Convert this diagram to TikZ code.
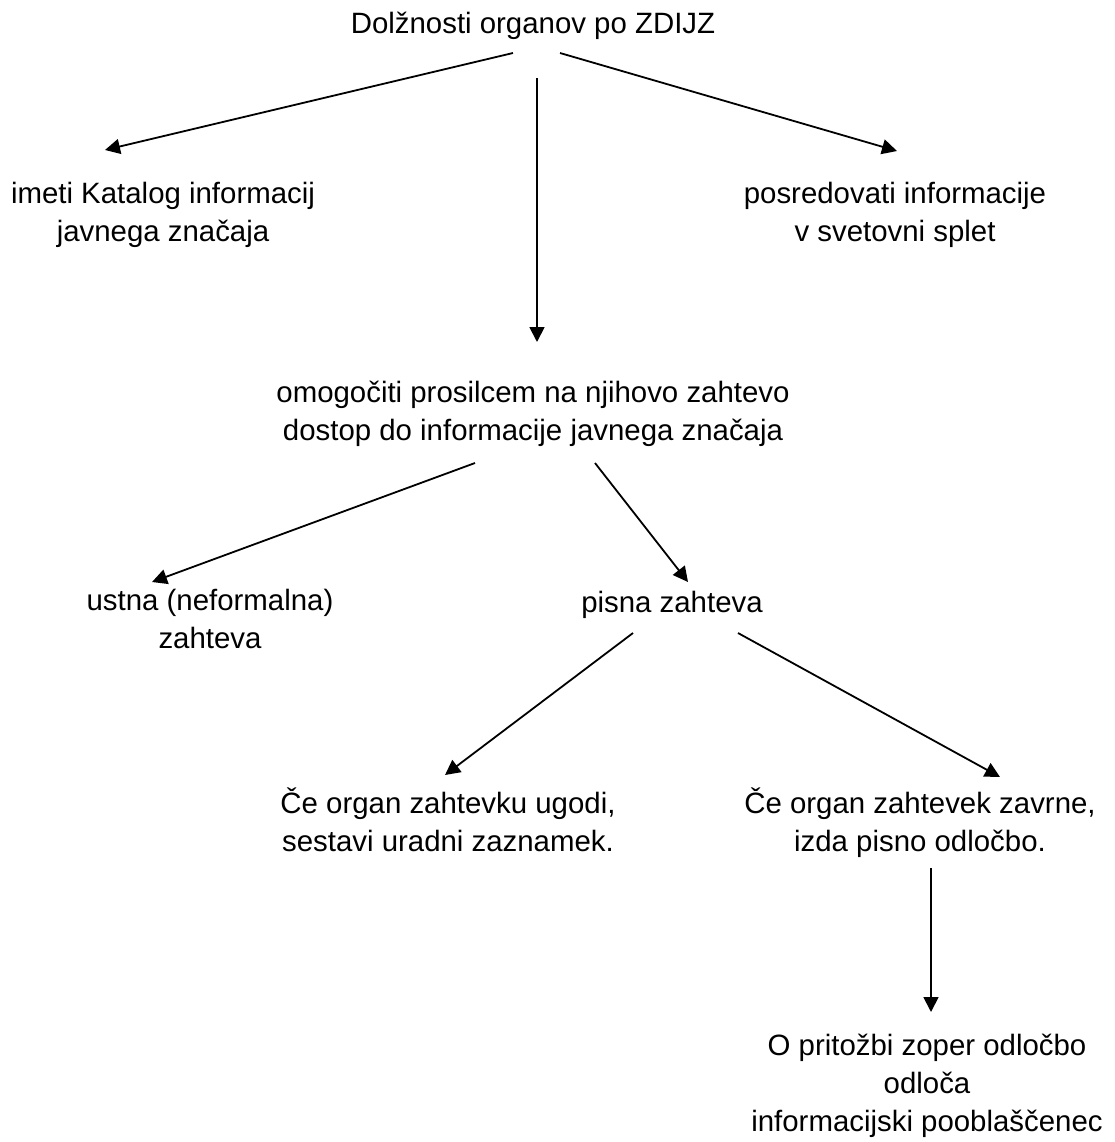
\documentclass[tikz,border=0pt]{standalone}
\usepackage{fontspec}
\setmainfont{Liberation Sans}
\usetikzlibrary{arrows.meta}

\begin{document}
\begin{tikzpicture}[x=0.5pt,y=-0.5pt,
    lbl/.style={font=\fontsize{14.7}{19}\selectfont, align=center, anchor=base, inner sep=0pt},
    arr/.style={-{Triangle[length=7.5pt,width=7.5pt]}, line width=0.9pt}]
    \useasboundingbox (0,0) rectangle (1115,1142);

    \node[lbl] (title)    at (533,33)   {Dolžnosti organov po ZDIJZ};
    \node[lbl] (katalog)  at (163,241)  {imeti Katalog informacij\\javnega značaja};
    \node[lbl] (splet)    at (895,241)  {posredovati informacije\\v svetovni splet};
    \node[lbl] (dostop)   at (533,440)  {omogočiti prosilcem na njihovo zahtevo\\dostop do informacije javnega značaja};
    \node[lbl] (ustna)    at (210,648)  {ustna (neformalna)\\zahteva};
    \node[lbl] (pisna)    at (672,612)  {pisna zahteva};
    \node[lbl] (ugodi)    at (448,851)  {Če organ zahtevku ugodi,\\sestavi uradni zaznamek.};
    \node[lbl] (zavrne)   at (920,851)  {Če organ zahtevek zavrne,\\izda pisno odločbo.};
    \node[lbl] (pritozba) at (927,1131) {O pritožbi zoper odločbo\\odloča\\informacijski pooblaščenec};

    \coordinate (title-l) at (513,53);
    \coordinate (title-m) at (537,78);
    \coordinate (title-r) at (560,53);
    \coordinate (katalog-in) at (105,150);
    \coordinate (dostop-in)  at (537,342);
    \coordinate (splet-in)   at (897,151);
    \coordinate (dostop-l) at (475,463);
    \coordinate (dostop-r) at (595,463);
    \coordinate (ustna-in) at (152,582);
    \coordinate (pisna-in) at (688,582);
    \coordinate (pisna-l) at (633,633);
    \coordinate (pisna-r) at (738,633);
    \coordinate (ugodi-in)  at (445,775);
    \coordinate (zavrne-in) at (1000,777);
    \coordinate (zavrne-out) at (931,868);
    \coordinate (pritozba-in) at (931,1012);

    \draw[arr] (title-l) -- (katalog-in);
    \draw[arr] (title-m) -- (dostop-in);
    \draw[arr] (title-r) -- (splet-in);
    \draw[arr] (dostop-l) -- (ustna-in);
    \draw[arr] (dostop-r) -- (pisna-in);
    \draw[arr] (pisna-l) -- (ugodi-in);
    \draw[arr] (pisna-r) -- (zavrne-in);
    \draw[arr] (zavrne-out) -- (pritozba-in);

\end{tikzpicture}
\end{document}
